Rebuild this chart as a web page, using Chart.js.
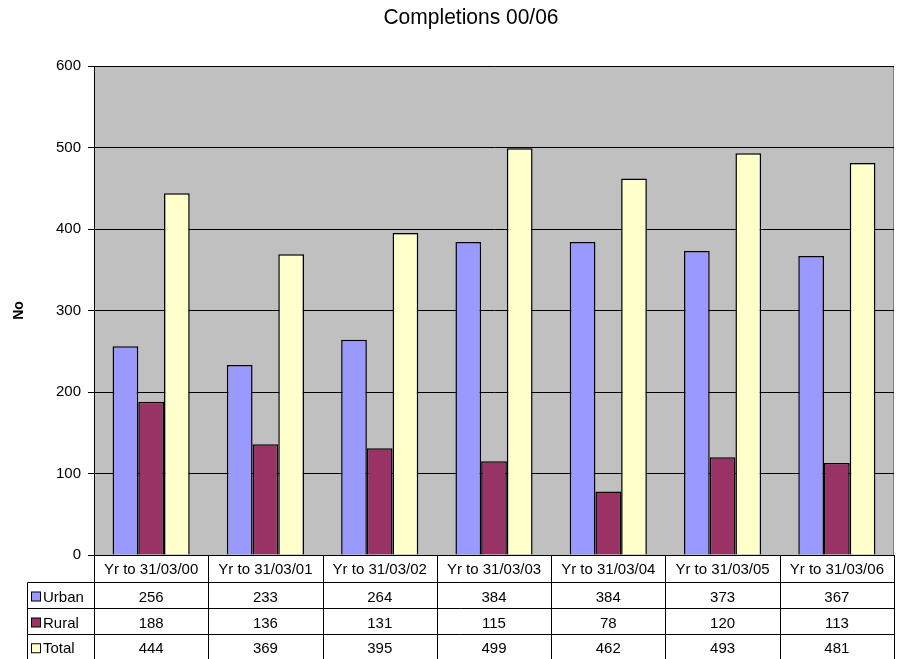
<!DOCTYPE html>
<html>
<head>
<meta charset="utf-8">
<script src="https://cdn.jsdelivr.net/npm/chart.js@4/dist/chart.umd.min.js"></script>
<style>
html,body{margin:0;padding:0;background:#fff;}
#wrap{width:897px;height:659px;position:relative;}
</style>
</head>
<body>
<div id="wrap"><canvas id="c" width="897" height="659"></canvas></div>
<script>
const categories = ["Yr to 31/03/00","Yr to 31/03/01","Yr to 31/03/02","Yr to 31/03/03","Yr to 31/03/04","Yr to 31/03/05","Yr to 31/03/06"];
const urban = [256,233,264,384,384,373,367];
const rural = [188,136,131,115,78,120,113];
const total = [444,369,395,499,462,493,481];
const seriesNames = ["Urban","Rural","Total"];
const seriesColors = ["#9999FF","#993366","#FFFFCC"];
const chartTitle = "Completions 00/06";
const yTitle = "No";

const FONT = "'Liberation Sans', Arial, sans-serif";

function stretchedText(ctx, txt, x, y, align, sy) {
  ctx.save();
  ctx.translate(x, y);
  ctx.scale(1, sy);
  ctx.textAlign = align;
  ctx.textBaseline = 'middle';
  ctx.fillText(txt, 0, 0);
  ctx.restore();
}

const decor = {
  id: 'decor',
  beforeDraw(chart) {
    const {ctx, chartArea: a} = chart;
    ctx.save();
    ctx.fillStyle = '#C0C0C0';
    ctx.fillRect(a.left, a.top, a.right - a.left, a.bottom - a.top);
    ctx.strokeStyle = '#808080';
    ctx.lineWidth = 1;
    ctx.strokeRect(a.left + 0.5, a.top + 0.5, a.right - a.left - 1, a.bottom - a.top);
    ctx.restore();
  },
  afterDraw(chart) {
    const {ctx, chartArea: a} = chart;
    const xs = chart.scales.x;
    const n = categories.length;
    const catW = (a.right - a.left) / n;
    ctx.save();
    ctx.fillStyle = '#000';
    ctx.font = "21px " + FONT;
    stretchedText(ctx, chartTitle, 471, 18, 'center', 1.08);
    const tableLeft = 27.5;
    const rowTops = [a.bottom, 582.5, 608.5, 634.5];
    const bottom = 659;
    ctx.strokeStyle = '#000';
    ctx.lineWidth = 1;
    ctx.beginPath();
    ctx.moveTo(tableLeft, rowTops[1]); ctx.lineTo(a.right, rowTops[1]);
    ctx.moveTo(tableLeft, rowTops[2]); ctx.lineTo(a.right, rowTops[2]);
    ctx.moveTo(tableLeft, rowTops[3]); ctx.lineTo(a.right, rowTops[3]);
    ctx.moveTo(tableLeft, rowTops[1]); ctx.lineTo(tableLeft, bottom);
    for (let i = 0; i <= n; i++) {
      const x = Math.round(a.left + i * catW) + 0.5;
      ctx.moveTo(x, a.bottom); ctx.lineTo(x, bottom);
    }
    ctx.stroke();
    ctx.font = "15px " + FONT;
    ctx.fillStyle = '#000';
    categories.forEach((c, i) => {
      stretchedText(ctx, c, xs.getPixelForValue(i), (a.bottom + rowTops[1]) / 2 + 1, 'center', 1.0);
    });
    const rows = [urban, rural, total];
    rows.forEach((vals, r) => {
      const yc = (rowTops[r + 1] + (r < 2 ? rowTops[r + 2] : 660)) / 2 + 2;
      ctx.fillStyle = '#000';
      vals.forEach((v, i) => {
        stretchedText(ctx, String(v), xs.getPixelForValue(i), yc, 'center', 1.0);
      });
      ctx.fillStyle = seriesColors[r];
      ctx.fillRect(31.5, yc - 5.5, 9, 9);
      ctx.strokeStyle = '#000';
      ctx.strokeRect(31.5, yc - 5.5, 9, 9);
      ctx.fillStyle = '#000';
      stretchedText(ctx, seriesNames[r], 43, yc, 'left', 1.0);
    });
    ctx.restore();
  }
};

new Chart(document.getElementById('c'), {
  type: 'bar',
  data: {
    labels: categories,
    datasets: [urban, rural, total].map((d, i) => ({
      label: seriesNames[i],
      data: d,
      backgroundColor: seriesColors[i],
      borderColor: '#000',
      borderWidth: 1.5,
      categoryPercentage: 0.675,
      barPercentage: 1.0
    }))
  },
  options: {
    responsive: false,
    animation: false,
    devicePixelRatio: 1,
    layout: { padding: { left: 0, right: 3, top: 66, bottom: 104 } },
    plugins: { legend: { display: false }, title: { display: false }, tooltip: { enabled: false } },
    scales: {
      x: {
        ticks: { display: false },
        grid: { display: false },
        border: { display: true, color: '#000' },
        afterFit(s) { s.height = 0; }
      },
      y: {
        min: 0, max: 600,
        ticks: { stepSize: 100, color: '#000', font: { family: FONT, size: 15 }, padding: 7 },
        grid: { color: '#000', lineWidth: 1, tickLength: 6, tickColor: '#000' },
        border: { display: true, color: '#000' },
        title: { display: true, text: yTitle, color: '#000', font: { family: FONT, size: 14, weight: 'bold' }, padding: { top: 11, bottom: 0 } },
        afterFit(s) { s.width = 94; }
      }
    }
  },
  plugins: [decor]
});
</script>
</body>
</html>
